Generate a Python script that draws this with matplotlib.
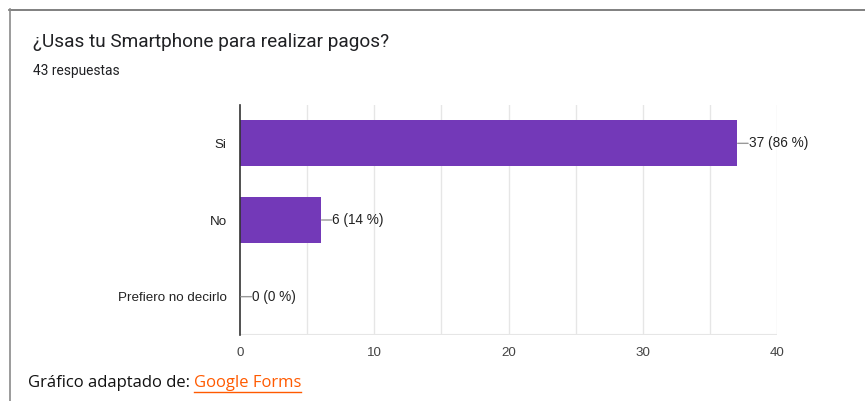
import matplotlib
matplotlib.use("Agg")
import matplotlib.pyplot as plt
from matplotlib.lines import Line2D

categories = ["Si", "No", "Prefiero no decirlo"]
counts = [37, 6, 0]
percents = [86, 14, 0]
total = 43
x_ticks = [0, 10, 20, 30, 40]
grid_lines = [5, 10, 15, 20, 25, 30, 35, 40]

BAR_COLOR = "#7339b8"
GRID_COLOR = "#e6e6e6"

fig = plt.figure(figsize=(8.65, 4.01), dpi=100)
fig.patch.set_facecolor("white")

# card border (top and left edges only)
fig.add_artist(Line2D([9 / 865, 1], [1 - 9.5 / 401, 1 - 9.5 / 401], color="#6b6b6b", lw=1.2))
fig.add_artist(Line2D([9.5 / 865, 9.5 / 865], [0, 1 - 9 / 401], color="#8a8a8a", lw=1.2))

fig.text(33 / 865, 1 - 42 / 401, "¿Usas tu Smartphone para realizar pagos?",
         fontsize=13.7, family="Roboto", color="#202124", va="center", ha="left")
fig.text(33 / 865, 1 - 71 / 401, f"{total} respuestas",
         fontsize=9.9, family="Roboto", color="#202124", va="center", ha="left")

ax = fig.add_axes([240 / 865, 1 - 335 / 401, 537 / 865, 230 / 401])
ypos = list(range(len(categories)))
ax.barh(ypos, counts, height=0.6, color=BAR_COLOR, zorder=3)
ax.set_xlim(0, 40)
ax.set_ylim(2.5, -0.5)

for g in grid_lines:
    ax.axvline(g, color=GRID_COLOR, lw=1, zorder=1)
ax.axhline(2.5, color=GRID_COLOR, lw=1.5, zorder=1)

for s in ["top", "right", "bottom"]:
    ax.spines[s].set_visible(False)
ax.spines["left"].set_color("#333333")
ax.spines["left"].set_linewidth(1.2)
ax.spines["left"].set_zorder(4)

ax.set_yticks(ypos)
ax.set_yticklabels(categories, family="Liberation Sans", fontsize=9.6, color="#222222")
ax.set_xticks(x_ticks)
ax.set_xticklabels([str(t) for t in x_ticks], family="Liberation Sans", fontsize=9.6, color="#444444")
ax.tick_params(axis="y", length=0, pad=9.5)
ax.tick_params(axis="x", length=0, pad=9)

for y, c, p in zip(ypos, counts, percents):
    ax.annotate(f"{c} ({p} %)", xy=(c, y), xytext=(8.5, 0), textcoords="offset points",
                ha="left", va="center", family="Liberation Sans", fontsize=9.8, color="#222222",
                zorder=5)
    ax.annotate("", xy=(c, y), xytext=(8.2, 0), textcoords="offset points",
                arrowprops=dict(arrowstyle="-", color="#999999", lw=1, shrinkA=0, shrinkB=0.7,
                                patchA=None),
                zorder=5)

t1 = fig.text(28 / 865, 1 - 383 / 401, "Gráfico adaptado de:", fontsize=12, family="Open Sans",
              color="#111111", va="center", ha="left")
fig.canvas.draw()
bb = t1.get_window_extent()
t2 = fig.text((bb.x1 + 4) / 865, 1 - 383 / 401, "Google Forms", fontsize=12, family="Open Sans",
              color="#ff5a00", va="center", ha="left")
bb2 = t2.get_window_extent()
fig.add_artist(Line2D([bb2.x0 / 865, bb2.x1 / 865], [1 - 392 / 401, 1 - 392 / 401],
                      color="#ff5a00", lw=1))

fig.savefig("out.png", dpi=100)
